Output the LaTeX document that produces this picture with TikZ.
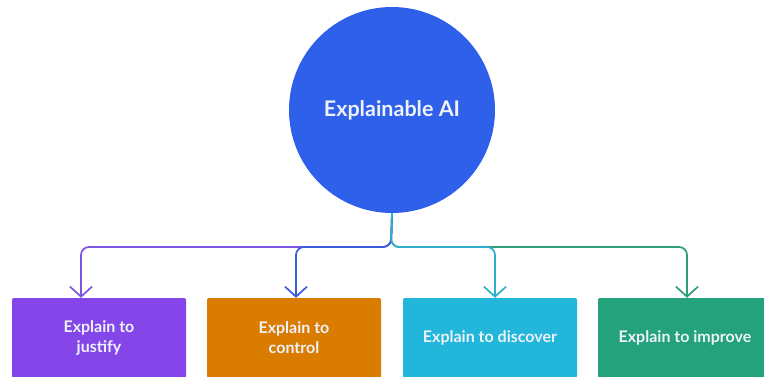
\documentclass[tikz,border=0pt]{standalone}
\usepackage{fontspec}
\setmainfont{Lato}
\usetikzlibrary{arrows.meta}
\definecolor{hubblue}{HTML}{2F60EA}
\definecolor{cpurple}{HTML}{8446E8}
\definecolor{corange}{HTML}{D97C00}
\definecolor{ccyan}{HTML}{22B6DA}
\definecolor{cgreen}{HTML}{24A27B}
\definecolor{lpurple}{HTML}{7A55E2}
\definecolor{lblue}{HTML}{3A5CDA}
\definecolor{lcyan}{HTML}{2EB0CC}
\definecolor{lgreen}{HTML}{2E9E7A}
\definecolor{labelwhite}{HTML}{EEF2FA}
\tikzset{
  hub/.style={circle, fill=hubblue, minimum size=206pt, inner sep=0pt,
    text=labelwhite, font=\bfseries\fontsize{21.5}{24}\selectfont},
  goal/.style={fill=#1, rounded corners=2pt, minimum width=174pt,
    minimum height=80pt, inner sep=2pt, text=labelwhite, align=center,
    font=\bfseries\fontsize{16}{20}\selectfont},
  link/.style={draw=#1, line width=1.7pt, rounded corners=8pt,
    -{Straight Barb[length=10pt, width=22pt, line width=1.7pt]}},
}
\begin{document}
\begin{tikzpicture}[x=1pt, y=-1pt]
  \useasboundingbox (0,0) rectangle (764,377);
  \clip (0,0) rectangle (764,377);
  \node[hub] (ai) at (392,110) {Explainable AI};
  \node[goal=cpurple] (justify)  at (99,338)  {Explain to\\justify};
  \node[goal=corange] (control)  at (294,338) {Explain to\\control};
  \node[goal=ccyan]   (discover) at (490,338) {Explain to discover};
  \node[goal=cgreen]  (improve)  at (685,338) {Explain to improve};
  \coordinate (j) at (391,247);
  % branches: the outer ones first, the inner ones drawn over them
  \draw[link=lpurple] (ai.south) -- (j) -| ([xshift=-18pt]justify.north);
  \draw[link=lgreen]  (ai.south) -- (j) -| ([xshift=2pt]improve.north);
  \draw[link=lblue]   (ai.south) -- (j) -| ([xshift=2pt]control.north);
  \draw[link=lcyan]   (ai.south) -- (j) -| ([xshift=5pt]discover.north);
\end{tikzpicture}
\end{document}
